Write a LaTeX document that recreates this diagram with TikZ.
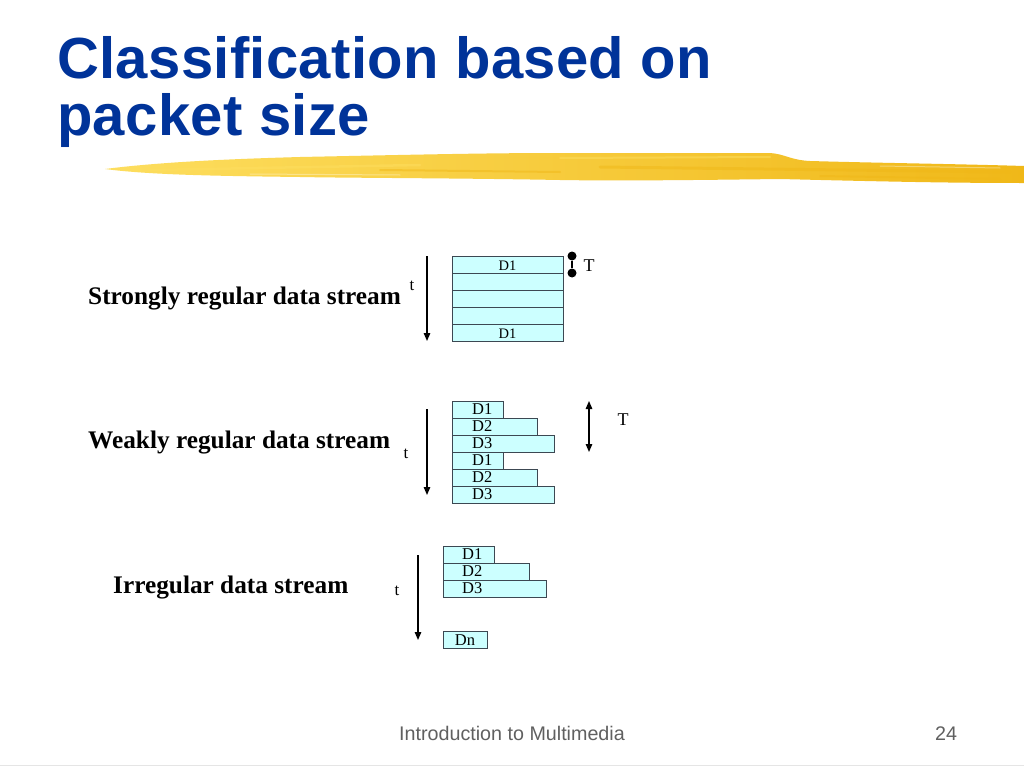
\documentclass[tikz,border=0pt]{standalone}
\usepackage{fontspec}
\setmainfont{Liberation Serif}
\newfontfamily\sansfont{Liberation Sans}
\newfontfamily\titlefont[LetterSpace=0.6]{Liberation Sans}
\usetikzlibrary{arrows.meta}
\definecolor{titleblue}{RGB}{0,51,153}
\definecolor{boxfill}{RGB}{204,255,255}
\definecolor{boxline}{RGB}{60,72,82}
\definecolor{footgray}{RGB}{96,96,96}
\definecolor{brushmain}{RGB}{250,206,45}
\definecolor{brushdark}{RGB}{240,184,24}
\definecolor{brushlight}{RGB}{253,222,95}
\tikzset{
  titletext/.style={anchor=base west, inner sep=0, text=titleblue,
    font=\titlefont\bfseries\fontsize{58}{58}\selectfont},
  labtext/.style={anchor=base west, inner sep=0,
    font=\bfseries\fontsize{25.3}{25.3}\selectfont},
  bar/.style={draw=boxline, fill=boxfill, line width=0.9pt, anchor=north west,
    minimum height=17pt, inner sep=0, outer sep=0},
  dsmall/.style={inner sep=0, font=\fontsize{14.5}{14.5}\selectfont},
  dbig/.style={inner sep=0, anchor=west, font=\fontsize{16.5}{16.5}\selectfont},
  tlab/.style={inner sep=0, font=\fontsize{17}{17}\selectfont},
  Tlab/.style={inner sep=0, font=\fontsize{18}{18}\selectfont},
  tarrow/.style={line width=1.3pt, -{Triangle[length=8pt,width=6.5pt]}},
  darrow/.style={line width=1.3pt, {Triangle[length=8pt,width=6.5pt]}-{Triangle[length=8pt,width=6.5pt]}},
  dot/.style={circle, fill=black, inner sep=0, minimum size=9pt},
  foot/.style={inner sep=0, text=footgray, font=\sansfont\fontsize{19.7}{19.7}\selectfont},
  streak/.style={line cap=round, opacity=0.5},
}
\begin{document}
\begin{tikzpicture}[x=1pt,y=-1pt]
\useasboundingbox (0,0) rectangle (1024,768);
\fill[white] (0,0) rectangle (1024,768);

% title
\node[titletext] (title1) at (57,78) {Classification based on};
\node[titletext] (title2) at (57,135) {packet size};

% brush stroke
\shade[left color=brushlight, right color=brushdark]
  (105,169) .. controls (160,162) and (230,159) .. (300,157)
  .. controls (400,155) and (480,153) .. (560,153)
  -- (770,153) .. controls (785,154) and (790,160) .. (810,161)
  .. controls (880,163) and (960,164) .. (1024,166)
  -- (1024,183)
  .. controls (960,183) and (900,182) .. (780,179)
  .. controls (700,180) and (620,181) .. (560,180)
  .. controls (450,178) and (350,178) .. (300,177)
  .. controls (220,176) and (150,175) .. (105,169) -- cycle;
\draw[streak, brushdark, line width=3pt] (600,167) -- (1010,172);
\draw[streak, brushdark, line width=2pt] (380,170) -- (560,172);
\draw[streak, brushdark, line width=2pt] (820,176) -- (1000,179);
\draw[streak, brushlight, line width=2.5pt] (150,170) -- (420,165);
\draw[streak, brushlight, line width=2pt] (560,158) -- (770,157);
\draw[streak, white, opacity=0.35, line width=1pt] (880,166) -- (1000,168);
\draw[streak, white, opacity=0.35, line width=1pt] (250,174) -- (400,175);

% ---- strongly regular ----
\node[labtext] (lab1) at (88,304) {Strongly regular data stream};
\node[tlab] (t1) at (412,286) {t};
\coordinate (a1s) at (427,256);
\coordinate (a1e) at (427,341);
\draw[tarrow] (a1s) -- (a1e);
\node[bar, minimum width=111pt] (s1) at (452,256) {};
\node[bar, minimum width=111pt] (s2) at (452,273) {};
\node[bar, minimum width=111pt] (s3) at (452,290) {};
\node[bar, minimum width=111pt] (s4) at (452,307) {};
\node[bar, minimum width=111pt] (s5) at (452,324) {};
\node[dsmall] at ([yshift=-1pt]s1.center) {D1};
\node[dsmall] at ([yshift=-1pt]s5.center) {D1};
\node[dot] (p1) at (572,256) {};
\node[dot] (p2) at (572,273) {};
\draw[line width=1.6pt] (p1) -- (p2);
\node[Tlab] (T1) at (589,266) {T};

% ---- weakly regular ----
\node[labtext] (lab2) at (88,448) {Weakly regular data stream};
\node[tlab] (t2) at (406,454) {t};
\coordinate (a2s) at (427,409);
\coordinate (a2e) at (427,495);
\draw[tarrow] (a2s) -- (a2e);
\node[bar, minimum width=51pt] (w1) at (452,401) {};
\node[bar, minimum width=85pt] (w2) at (452,418) {};
\node[bar, minimum width=102pt] (w3) at (452,435) {};
\node[bar, minimum width=51pt] (w4) at (452,452) {};
\node[bar, minimum width=85pt] (w5) at (452,469) {};
\node[bar, minimum width=102pt] (w6) at (452,486) {};
\node[dbig] at (472,409.5) {D1};
\node[dbig] at (472,426.5) {D2};
\node[dbig] at (472,443.5) {D3};
\node[dbig] at (472,460.5) {D1};
\node[dbig] at (472,477.5) {D2};
\node[dbig] at (472,494.5) {D3};
\coordinate (b2s) at (589,401);
\coordinate (b2e) at (589,452);
\draw[darrow] (b2s) -- (b2e);
\node[Tlab] (T2) at (623,420) {T};

% ---- irregular ----
\node[labtext] (lab3) at (113,593) {Irregular data stream};
\node[tlab] (t3) at (397,591) {t};
\coordinate (a3s) at (418,555);
\coordinate (a3e) at (418,640);
\draw[tarrow] (a3s) -- (a3e);
\node[bar, minimum width=51pt] (r1) at (443,546) {};
\node[bar, minimum width=86pt] (r2) at (443,563) {};
\node[bar, minimum width=103pt] (r3) at (443,580) {};
\node[bar, minimum width=44pt] (rn) at (443,631) {};
\node[dbig] at (462,554.5) {D1};
\node[dbig] at (462,571.5) {D2};
\node[dbig] at (462,588.5) {D3};
\node[dbig, anchor=center] at ([yshift=-0.5pt]rn.center) {Dn};

% footer
\node[foot, anchor=base] (f1) at (512,740) {Introduction to Multimedia};
\node[foot, anchor=base] (f2) at (946,740) {24};
\draw[black!10, line width=1pt] (0,765.5) -- (1024,765.5);
\end{tikzpicture}
\end{document}
